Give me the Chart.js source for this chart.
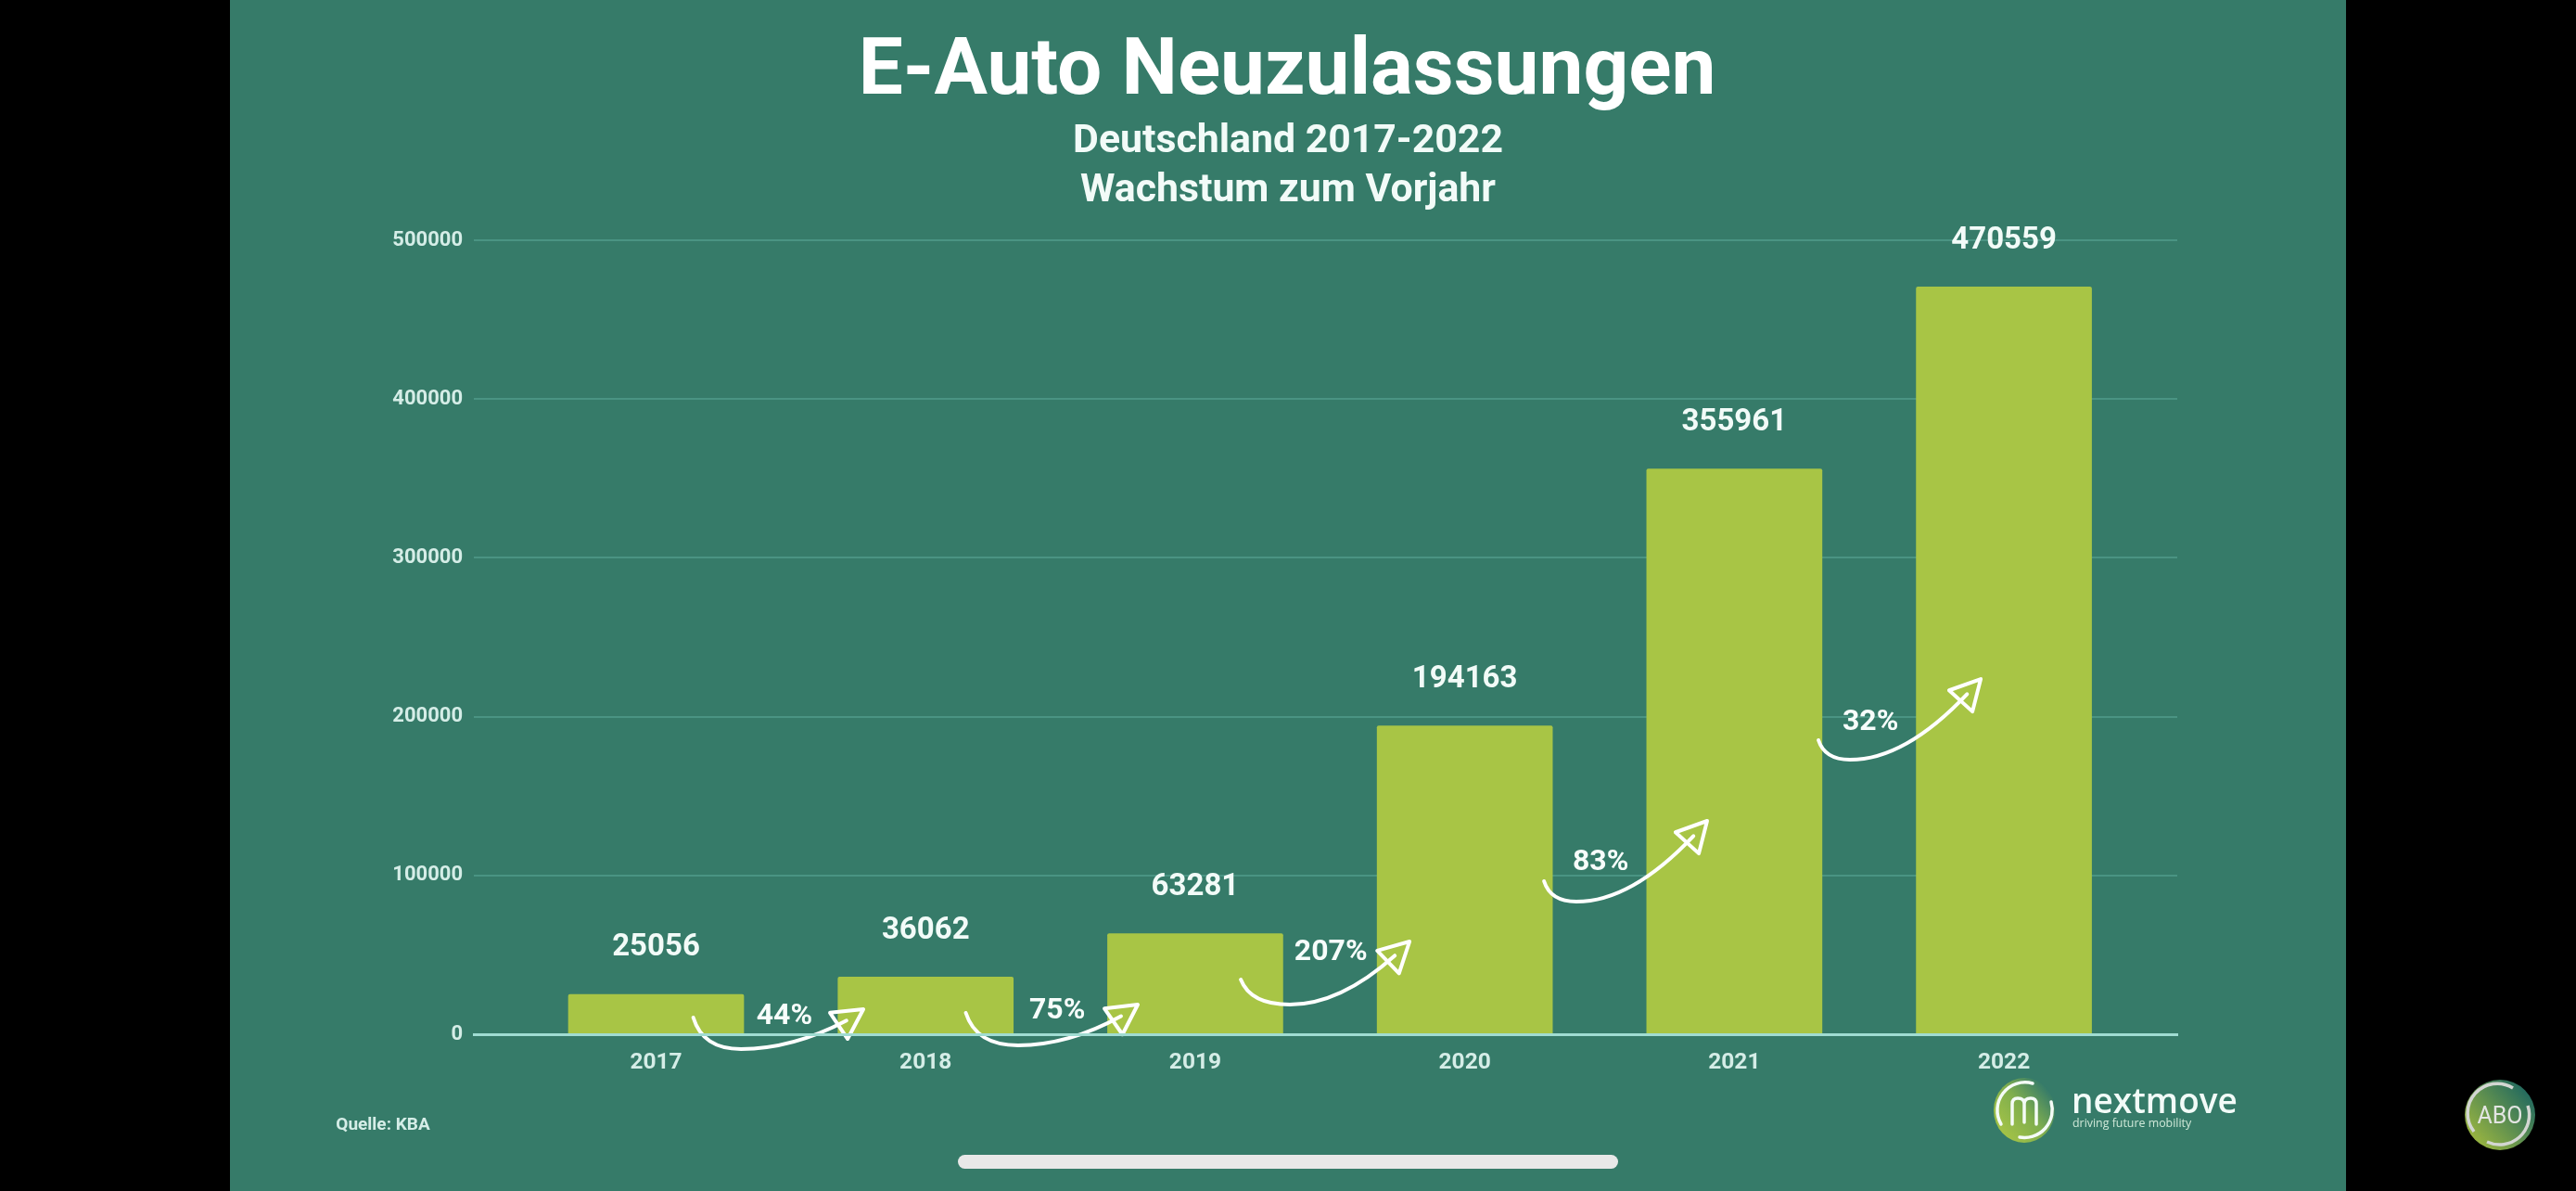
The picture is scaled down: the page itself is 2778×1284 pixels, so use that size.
<!DOCTYPE html>
<html>
<head>
<meta charset="utf-8">
<title>E-Auto Neuzulassungen</title>
<script src="https://cdn.jsdelivr.net/npm/chart.js@4"></script>
<style>
  html, body { margin: 0; background: #000; overflow: hidden; }
  body { width: 2778px; height: 1284px; position: relative; font-family: Roboto, sans-serif; color: #fff; }
  .panel { position: absolute; left: 248px; top: 0; width: 2282px; height: 1284px; background: #367b69; }
  canvas { position: absolute; left: 0; top: 0; }
  .txt { position: absolute; white-space: nowrap; transform: translate(-50%, -50%); }
  .title { left: 1388px; top: 72px; font-size: 85.5px; font-weight: 700; }
  .sub { left: 1389px; font-size: 42.8px; font-weight: 700; color: #f2fbf8; }
  .source { left: 413px; top: 1211px; font-size: 19px; font-weight: 700; color: #d5ede7; }
  .home { position: absolute; left: 1033px; top: 1245px; width: 712px; height: 15px; border-radius: 8px; background: #e8e8e8; }
  .logo, .abo { position: absolute; }
  .logo { left: 2148px; top: 1160px; }
  .abo { left: 2656px; top: 1162px; }
  .brand { position: absolute; left: 2234px; top: 1161px; font-family: "Open Sans", sans-serif; font-size: 37px; font-weight: 600; color: #f2fbf8; line-height: 50px; }
  .tag { position: absolute; left: 2235px; top: 1201px; font-family: "Open Sans", sans-serif; font-size: 12.4px; color: #cfe8d8; line-height: 20px; }
</style>
</head>
<body>
<div class="panel"></div>
<canvas id="evChart" width="2778" height="1284"></canvas>
<div class="txt title">E-Auto Neuzulassungen</div>
<div class="txt sub" style="top:149px">Deutschland 2017-2022</div>
<div class="txt sub" style="top:202px">Wachstum zum Vorjahr</div>
<div class="txt source">Quelle: KBA</div>
<div class="home"></div>

<svg class="logo" width="72" height="74" viewBox="0 0 72 74">
  <defs>
    <linearGradient id="lg" x1="0.1" y1="0.9" x2="0.9" y2="0.2">
      <stop offset="0" stop-color="#a8c545"/>
      <stop offset="0.55" stop-color="#7fae4e"/>
      <stop offset="1" stop-color="#367b69"/>
    </linearGradient>
  </defs>
  <ellipse cx="35" cy="37" rx="33" ry="35" fill="url(#lg)"/>
  <g fill="none" stroke="#f4fbf6" stroke-width="3.5" stroke-linecap="round">
    <path d="M10 52 A30 30 0 0 1 44 8"/>
    <path d="M64 28 A30 30 0 0 1 30 66"/>
    <path d="M22 52 V30 Q22 24 28 24 Q35 24 35 30 V50 M35 30 Q35 24 42 24 Q48 24 48 30 V52"/>
  </g>
</svg>
<div class="brand">nextmove</div>
<div class="tag">driving future mobility</div>

<svg class="abo" width="80" height="80" viewBox="0 0 80 80">
  <defs>
    <linearGradient id="ab" x1="0.1" y1="0.9" x2="0.9" y2="0.2">
      <stop offset="0" stop-color="#9fb83f"/>
      <stop offset="1" stop-color="#256b5e"/>
    </linearGradient>
  </defs>
  <circle cx="40" cy="40" r="38" fill="url(#ab)"/>
  <g fill="none" stroke="#d3d6d2" stroke-width="3.5">
    <path d="M12 58 A32 32 0 0 1 54 11"/>
    <path d="M70 30 A32 32 0 0 1 26 69"/>
  </g>
  <text x="40" y="49" text-anchor="middle" font-family="Roboto" font-size="25" fill="#e3e5e2">ABO</text>
</svg>

<script>
// chart data
const years = [2017, 2018, 2019, 2020, 2021, 2022];
const registrations = [25056, 36062, 63281, 194163, 355961, 470559];
const yTicks = [0, 100000, 200000, 300000, 400000, 500000];
const growthLabels = ["44%", "75%", "207%", "83%", "32%"];

// annotations in axis units (year, registrations)
const growthAnchors = [
  [2017.476, 11100], [2018.488, 14600], [2019.503, 51400], [2020.504, 108000], [2021.505, 196200]
];
const arrowStarts = [
  [2017.138, 10514], [2018.149, 13434], [2019.169, 34462], [2020.294, 96377], [2021.312, 185160]
];
const arrowLows = [
  [2017.315, -9346], [2018.343, -7009], [2019.351, 18691], [2020.414, 83526], [2021.429, 172890]
];
const arrowTips = [
  [2017.769, 15771], [2018.787, 18691], [2019.795, 58410], [2020.899, 134343], [2021.914, 223710]
];

const valueLabels = {
  id: "valueLabels",
  afterDatasetsDraw(chart) {
    const { ctx } = chart;
    const bars = chart.getDatasetMeta(0).data;
    ctx.save();
    ctx.fillStyle = "#f2fbf8";
    ctx.font = "700 33px Roboto";
    ctx.textAlign = "center";
    ctx.textBaseline = "middle";
    bars.forEach((bar, i) => {
      ctx.fillText(String(registrations[i]), bar.x, bar.y - 50);
    });
    ctx.restore();
  }
};

const growthArrows = {
  id: "growthArrows",
  afterDatasetsDraw(chart) {
    const { ctx, scales } = chart;
    const at = (p) => ({ x: scales.x.getPixelForValue(p[0]), y: scales.y.getPixelForValue(p[1]) });
    ctx.save();
    growthLabels.forEach((label, i) => {
      const start = at(arrowStarts[i]);
      const low = at(arrowLows[i]);
      const tip = at(arrowTips[i]);
      const angle = Math.atan2(tip.y - low.y, tip.x - low.x) - 0.28;

      ctx.strokeStyle = "#fff";
      ctx.lineWidth = 4;
      ctx.lineCap = "round";
      ctx.lineJoin = "round";
      ctx.beginPath();
      ctx.moveTo(start.x, start.y);
      ctx.quadraticCurveTo(start.x + (low.x - start.x) * 0.2, low.y, low.x, low.y);
      ctx.quadraticCurveTo(low.x + (tip.x - low.x) * 0.42, low.y, tip.x - 22 * Math.cos(angle), tip.y - 22 * Math.sin(angle));
      ctx.stroke();

      // open arrow head
      ctx.translate(tip.x, tip.y);
      ctx.rotate(angle);
      ctx.beginPath();
      ctx.moveTo(0, 0);
      ctx.lineTo(-32, -17);
      ctx.lineTo(-32, 17);
      ctx.closePath();
      ctx.stroke();
      ctx.setTransform(1, 0, 0, 1, 0, 0);

      const g = at(growthAnchors[i]);
      ctx.fillStyle = "#f7fdfb";
      ctx.font = "700 32px Roboto";
      ctx.textAlign = "center";
      ctx.textBaseline = "middle";
      ctx.fillText(label, g.x, g.y);
    });
    ctx.restore();
  }
};

new Chart(document.getElementById("evChart"), {
  type: "bar",
  data: {
    datasets: [
      {
        data: years.map((y, i) => ({ x: y, y: registrations[i] })),
        backgroundColor: "#a8c545",
        barThickness: 189,
        borderRadius: 2,
        borderSkipped: "bottom"
      }
    ]
  },
  plugins: [valueLabels, growthArrows],
  options: {
    responsive: false,
    devicePixelRatio: 1,
    animation: false,
    layout: { padding: { left: 411, right: 430, top: 259, bottom: 109 } },
    plugins: {
      legend: { display: false },
      tooltip: { enabled: false }
    },
    scales: {
      x: {
        type: "linear",
        offset: false, // bars are placed by min/max here
        min: 2016.324,
        max: 2022.643,
        afterBuildTicks: (scale) => { scale.ticks = years.map((y) => ({ value: y })); },
        afterFit: (scale) => { scale.height = 60; },
        grid: { display: false },
        border: { display: true, color: "#a0dcd2", width: 3, z: 1 },
        ticks: {
          padding: 8,
          autoSkip: false,
          maxRotation: 0,
          color: "#d5ede7",
          font: { family: "Roboto", size: 24.5, weight: "700" },
          callback: (v) => String(v)
        }
      },
      y: {
        min: 0,
        max: 500000,
        afterBuildTicks: (scale) => { scale.ticks = yTicks.map((v) => ({ value: v })); },
        afterFit: (scale) => { scale.width = 100; },
        grid: { color: "#4a9483", lineWidth: 2, drawTicks: false },
        border: { display: false },
        ticks: {
          padding: 12,
          color: "#d5ede7",
          font: { family: "Roboto", size: 22, weight: "700" },
          callback: (v) => String(v)
        }
      }
    }
  }
});
</script>
</body>
</html>
